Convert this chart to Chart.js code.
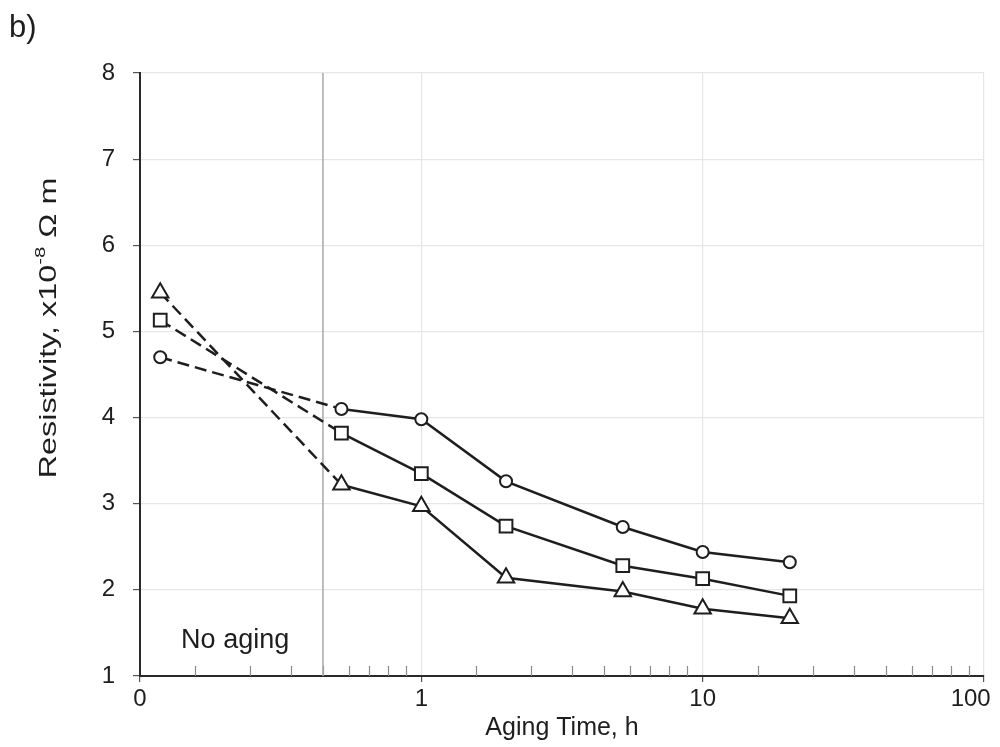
<!DOCTYPE html>
<html>
<head>
<meta charset="utf-8">
<script src="https://cdn.jsdelivr.net/npm/chart.js@4/dist/chart.umd.min.js"></script>
<style>
  html, body { margin: 0; padding: 0; background: #fff; }
  #wrap { width: 1000px; height: 747px; }
</style>
</head>
<body>
<div id="wrap"><canvas id="chart" width="1000" height="747"></canvas></div>
<script>
'use strict';

/*** DATA ***/

// aging time in hours (first point is the "no aging" state)
var agingTime = [0.118, 0.52, 1, 2, 5.2, 10, 20.4];
var circleSeries = [4.70, 4.10, 3.98, 3.26, 2.73, 2.44, 2.32];
var squareSeries = [5.13, 3.82, 3.35, 2.74, 2.28, 2.13, 1.93];
var triangleSeries = [5.45, 3.22, 2.97, 2.14, 1.98, 1.78, 1.67];

// x axis: log scale, decade marks and how they are labelled
var xTickValues = [0.1, 1, 10, 100];
var xTickLabels = ['0', '1', '10', '100\u00A0\u00A0\u00A0\u00A0'];
// minor tick factors inside each decade, as drawn in the figure
var minorFactors = [1.57, 2.46, 3.44, 4.47, 5.53, 6.52, 7.62, 8.83];
var minorDecades = [0.1, 1, 10];
// boundary between "no aging" and aged samples
var noAgingLimit = 0.447;

var yMin = 1;
var yMax = 8;

/*** HELPERS ***/

var FONT = "'Liberation Sans', Arial, sans-serif";
var INK = '#1e1e1e';

function toPoints(values) {
  var pts = [];
  for (var i = 0; i < values.length; i++) {
    pts.push({ x: agingTime[i], y: values[i] });
  }
  return pts;
}

function makeSeries(values, style, radius) {
  return {
    data: toPoints(values),
    borderColor: INK,
    borderWidth: 2.5,
    pointStyle: style,
    pointRadius: radius,
    pointBorderWidth: 2,
    pointBorderColor: INK,
    pointBackgroundColor: '#fff',
    segment: {
      // first segment (from no-aging point) is dashed
      borderDash: function(ctx) { return ctx.p0DataIndex === 0 ? [12, 6] : undefined; }
    },
    order: 1
  };
}

// y title in the figure is drawn long, with a raised exponent
function drawYTitle(ctx, cx, cy) {
  var parts = [
    { text: 'Resistivity, x10', size: 24, rise: 0 },
    { text: '-8', size: 15, rise: 8 },
    { text: ' \u03A9 m', size: 24, rise: 0 }
  ];
  var total = 0;
  parts.forEach(function(p) {
    ctx.font = p.size + 'px ' + FONT;
    p.w = ctx.measureText(p.text).width;
    total += p.w;
  });
  ctx.save();
  ctx.translate(cx, cy);
  ctx.rotate(-Math.PI / 2);
  ctx.scale(1.35, 1);
  ctx.fillStyle = INK;
  ctx.textAlign = 'left';
  ctx.textBaseline = 'middle';
  var x = -total / 2;
  parts.forEach(function(p) {
    ctx.font = p.size + 'px ' + FONT;
    ctx.fillText(p.text, x, -p.rise);
    x += p.w;
  });
  ctx.restore();
}

// small ticks pointing up into the plot, labels and the panel letter
var extrasPlugin = {
  id: 'extras',
  beforeDatasetsDraw: function(chart) {
    var ctx = chart.ctx;
    var xs = chart.scales.x;
    var bottom = chart.chartArea.bottom;
    ctx.save();
    ctx.strokeStyle = '#8a8a8a';
    ctx.lineWidth = 1.2;
    for (var d = 0; d < minorDecades.length; d++) {
      for (var k = 0; k < minorFactors.length; k++) {
        var px = Math.round(xs.getPixelForValue(minorDecades[d] * minorFactors[k])) + 0.5;
        ctx.beginPath();
        ctx.moveTo(px, bottom);
        ctx.lineTo(px, bottom - 10);
        ctx.stroke();
      }
    }
    ctx.restore();
  },
  afterDraw: function(chart) {
    var ctx = chart.ctx;
    var xs = chart.scales.x;
    var ys = chart.scales.y;
    ctx.save();
    ctx.fillStyle = INK;
    ctx.textBaseline = 'alphabetic';
    ctx.textAlign = 'left';
    ctx.font = '27px ' + FONT;
    ctx.fillText('No aging', xs.getPixelForValue(0.14), ys.getPixelForValue(1.32));
    ctx.font = '31px ' + FONT;
    ctx.fillText('b)', 9, 37);
    ctx.restore();
    drawYTitle(ctx, 49, 328);
  }
};

/*** CHART ***/

var ctx = document.getElementById('chart').getContext('2d');
var chart = new Chart(ctx, {
  type: 'line',
  data: {
    datasets: [
      makeSeries(circleSeries, 'circle', 6),
      makeSeries(squareSeries, 'rect', 9),
      makeSeries(triangleSeries, 'triangle', 9.5),
      {
        data: [{ x: noAgingLimit, y: yMin }, { x: noAgingLimit, y: yMax }],
        borderColor: '#a8a8a8',
        borderWidth: 1.5,
        pointRadius: 0,
        order: 10
      }
    ]
  },
  options: {
    responsive: false,
    animation: false,
    layout: { padding: { left: 0, right: 16, top: 73, bottom: 0 } },
    plugins: {
      legend: { display: false },
      tooltip: { enabled: false }
    },
    scales: {
      x: {
        type: 'logarithmic',
        min: 0.1,
        max: 100,
        afterBuildTicks: function(scale) {
          scale.ticks = xTickValues.map(function(v) { return { value: v }; });
        },
        afterFit: function(scale) {
          scale.height = 71;
          scale.paddingLeft = 0;
          scale.paddingRight = 16;
        },
        grid: {
          color: '#e6e6e6',
          lineWidth: 1.2,
          tickColor: '#555',
          tickLength: 6
        },
        border: { color: '#2a2a2a', width: 2 },
        ticks: {
          autoSkip: false,
          maxRotation: 0,
          padding: 3,
          color: INK,
          font: { family: FONT, size: 24 },
          callback: function(value, index) { return xTickLabels[index]; }
        },
        title: {
          display: true,
          text: 'Aging Time, h',
          color: INK,
          font: { family: FONT, size: 25 },
          padding: { top: 0, bottom: 4 }
        }
      },
      y: {
        type: 'linear',
        min: yMin,
        max: yMax,
        afterFit: function(scale) {
          scale.width = 140;
        },
        grid: {
          color: '#e6e6e6',
          lineWidth: 1.2,
          tickColor: '#555',
          tickLength: 7
        },
        border: { color: '#2a2a2a', width: 2 },
        ticks: {
          stepSize: 1,
          padding: 18,
          color: INK,
          font: { family: FONT, size: 24 }
        }
      }
    }
  },
  plugins: [extrasPlugin]
});
</script>
</body>
</html>
